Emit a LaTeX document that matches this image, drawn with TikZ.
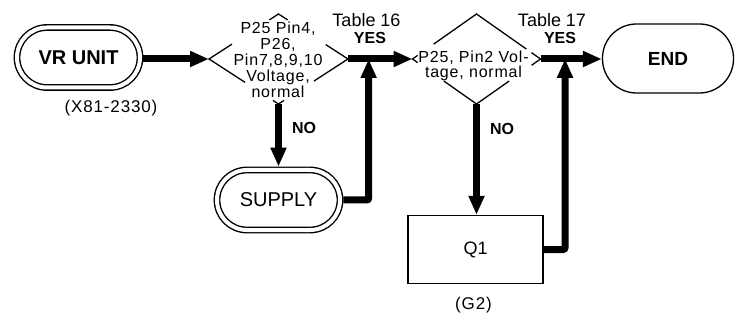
\documentclass[tikz,border=0pt]{standalone}
\usepackage{fontspec}
\setmainfont{Liberation Sans}
\newfontfamily\spaced{Liberation Sans}[LetterSpace=5]
\usetikzlibrary{shapes.geometric,arrows.meta,calc}
\begin{document}
\begin{tikzpicture}[x=1pt,y=-1pt,
  dstad/.style={draw, line width=1.4pt, double, double distance=4pt,
    rounded corners=30pt, minimum width=123pt, minimum height=60pt,
    inner sep=0pt, outer sep=3.4pt},
  stad/.style={draw, line width=1.3pt, rounded corners=34pt,
    minimum width=131pt, minimum height=69pt, inner sep=0pt},
  box/.style={draw, line width=1.3pt, minimum width=135pt,
    minimum height=68pt, inner sep=0pt},
  dia/.style={shape=diamond, draw=none, inner sep=0pt, outer sep=0pt},
  dedge/.style={line width=1.3pt},
  dtext/.style={align=center, inner sep=0pt},
  lbl/.style={inner sep=0pt},
  bold/.style={inner sep=0pt, font=\bfseries\fontsize{16}{16}\selectfont},
  thk/.style={line width=7pt},
  arr/.style={thk, -{Triangle[length=19pt,width=15pt]}}
]
\useasboundingbox (0,0) rectangle (735,320);

% nodes
\node[dstad, font=\bfseries\fontsize{20}{20}\selectfont] (vr) at (78.5,57.5) {VR UNIT};
\node[lbl, font=\spaced\fontsize{17}{17}\selectfont] (vrc) at (111,108) {(X81-2330)};

\node[dia, minimum width=139pt, minimum height=90pt] (d1) at (278.5,59) {};
\node[dtext, font=\spaced\fontsize{16}{16}\selectfont] (d1t) at (278,60)
  {P25 Pin4,\\P26,\\Pin7,8,9,10\\Voltage,\\normal};

\node[dia, minimum width=128pt, minimum height=90pt] (d2) at (476.5,59) {};
\node[dtext, font=\spaced\fontsize{16}{15}\selectfont] (d2t) at (473.5,65.5)
  {P25, Pin2 Vol-\\tage, normal};

\node[stad, font=\bfseries\fontsize{19}{19}\selectfont] (end) at (668,58.5) {END};

\node[dstad, font=\fontsize{20}{20}\selectfont] (sup) at (278.5,200) {SUPPLY};

\node[box, font=\fontsize{18}{18}\selectfont] (q1) at (475.5,249.5) {Q1};
\node[lbl, font=\spaced\fontsize{17}{17}\selectfont] (g2) at (473.5,305) {(G2)};

\node[lbl, font=\fontsize{18}{18}\selectfont] (t16) at (366.5,20) {Table 16};
\node[bold] (y16) at (370,38) {YES};
\node[lbl, font=\fontsize{18}{18}\selectfont] (t17) at (552,20) {Table 17};
\node[bold] (y17) at (560,38) {YES};
\node[bold] (no1) at (304,127.5) {NO};
\node[bold] (no2) at (502,128.5) {NO};

% diamond 1 visible edges
\draw[dedge] ($(d1.west)!0.33!(d1.north)$) -- (d1.west) -- ($(d1.west)!0.52!(d1.south)$);
\draw[dedge] ($(d1.east)!0.32!(d1.north)$) -- (d1.east) -- ($(d1.east)!0.49!(d1.south)$);
\draw[dedge] ($(d1.north)!0.13!(d1.west)$) -- (d1.north) -- ($(d1.north)!0.13!(d1.east)$);
\draw[dedge] ($(d1.south)!0.08!(d1.west)$) -- (d1.south) -- ($(d1.south)!0.08!(d1.east)$);

% diamond 2 visible edges
\draw[dedge] ($(d2.north)!0.67!(d2.west)$) -- (d2.north) -- ($(d2.north)!0.78!(d2.east)$);
\draw[dedge] ($(d2.west)!0.08!(d2.north)$) -- (d2.west) -- ($(d2.west)!0.08!(d2.south)$);
\draw[dedge] ($(d2.east)!0.14!(d2.north)$) -- (d2.east) -- ($(d2.east)!0.14!(d2.south)$);
\draw[dedge] ($(d2.south)!0.51!(d2.west)$) -- (d2.south) -- ($(d2.south)!0.51!(d2.east)$);

% connectors
\coordinate (j1) at ($(d1.east)!0.32!(d2.west)$);
\coordinate (j2) at ($(d2.east)!0.4!(end.west)$);
\draw[arr] (vr.east |- d1.west) -- (d1.west);
\draw[arr] (d1.east) -- (d2.west);
\draw[arr] (d2.east) -- (end.west |- d2.east);
\draw[arr] (d1.south) -- (sup.north);
\draw[arr] (d2.south) -- (d2.south |- q1.north);
\draw[arr, rounded corners=2pt] (sup.east) -| (j1);
\draw[arr, rounded corners=2pt] (q1.east) -| (j2);
\end{tikzpicture}
\end{document}
